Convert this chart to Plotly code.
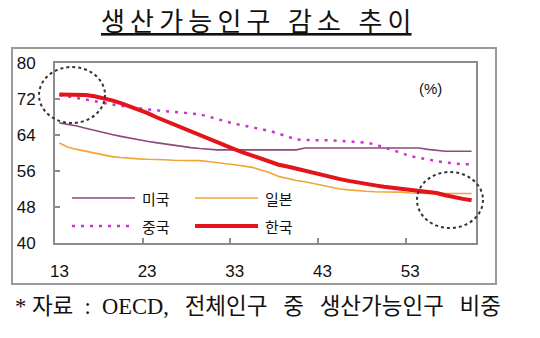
import plotly.graph_objects as go

years = list(range(13, 61))

korea = [73.0, 73.0, 73.0, 72.9, 72.6, 72.2, 71.7, 71.1, 70.4, 69.6,
         68.9, 68.0, 67.2, 66.3, 65.5, 64.6, 63.8, 63.0, 62.2, 61.5,
         60.8, 60.1, 59.4, 58.7, 58.0, 57.4, 57.0, 56.5, 56.1, 55.6,
         55.1, 54.7, 54.2, 53.8, 53.4, 53.1, 52.8, 52.5, 52.3, 52.1,
         51.9, 51.6, 51.4, 51.1, 50.6, 50.1, 49.8, 49.5]

china = [72.9, 72.6, 72.3, 71.9, 71.5, 71.1, 70.8, 70.5, 70.2, 69.9,
         69.7, 69.5, 69.3, 69.1, 69.0, 68.8, 68.6, 68.1, 67.5, 67.0,
         66.5, 66.1, 65.6, 65.3, 64.9, 64.3, 63.6, 63.0, 62.9, 62.9,
         62.8, 62.8, 62.7, 62.6, 62.5, 62.3, 61.9, 61.3, 60.7, 60.0,
         59.3, 58.9, 58.5, 58.2, 57.9, 57.7, 57.5, 57.5]

usa = [66.7, 66.4, 66.0, 65.5, 65.0, 64.5, 64.1, 63.7, 63.3, 62.9,
       62.6, 62.3, 62.0, 61.7, 61.4, 61.2, 61.0, 60.8, 60.7, 60.7,
       60.7, 60.7, 60.7, 60.7, 60.7, 60.7, 60.7, 60.7, 61.1, 61.1,
       61.1, 61.1, 61.1, 61.1, 61.1, 61.1, 61.1, 61.1, 61.1, 61.1,
       61.1, 61.1, 60.8, 60.6, 60.4, 60.4, 60.4, 60.4]

japan = [62.2, 61.3, 60.8, 60.4, 60.0, 59.6, 59.2, 59.0, 58.8, 58.7,
         58.6, 58.6, 58.5, 58.4, 58.4, 58.4, 58.3, 58.1, 57.8, 57.6,
         57.4, 57.1, 56.8, 56.2, 55.6, 54.8, 54.3, 53.9, 53.6, 53.2,
         52.8, 52.4, 52.0, 51.8, 51.6, 51.5, 51.4, 51.4, 51.3, 51.3,
         51.1, 51.0, 51.0, 51.0, 51.0, 51.0, 51.0, 51.0]

x_tick_vals = [13, 23, 33, 43, 53]
x_tick_text = ["13", "23", "33", "43", "53"]
y_tick_vals = [40, 48, 56, 64, 72, 80]

TS = "\u2009"   # thin space (letter spacing)
EN = "\u2002"   # en space (wide word gap)

def spaced(word):
    return TS.join(word)

title_text = "<u>" + ("   ".join(spaced(w) for w in ["생산가능인구", "감소", "추이"])) + "</u>"
footer_text = ("* 자료" + EN + ":" + EN + "OECD," + EN + TS + "전체인구" + EN + TS + "중"
               + EN + TS + "생산가능인구" + EN + TS + "비중")
unit_text = "(%)"

C_US = "#8E4A7A"
C_JP = "#F0A535"
C_CN = "#CC33CC"
C_KR = "#E3141A"

series = [
    ("미국", usa, C_US, 1.6, "solid"),
    ("일본", japan, C_JP, 1.6, "solid"),
    ("중국", china, C_CN, 2.5, "3px,6px"),
    ("한국", korea, C_KR, 4.0, "solid"),
]

fig = go.Figure()
for name, vals, col, w, dash in series:
    fig.add_trace(go.Scatter(x=years, y=vals, mode="lines", name=name,
                             line=dict(color=col, width=w, dash=dash),
                             showlegend=False))

# layout geometry (pixels)
W, H = 540, 338
L, R, T, B = 55, 476, 63, 243
pw, ph = R - L, B - T

def px(xp):
    return (xp - L) / pw

def py(yp):
    return (B - yp) / ph

shapes = []
annotations = []

# outer frame
shapes.append(dict(type="rect", xref="paper", yref="paper",
                   x0=px(12), x1=px(496), y0=py(284), y1=py(48),
                   line=dict(color="#9a9a9a", width=2), layer="below"))

# custom legend
legend_items = [
    ("미국", C_US, 1.6, "solid", 72, 135, 198),
    ("일본", C_JP, 1.6, "solid", 195, 258, 198),
    ("중국", C_CN, 2.5, "3px,6px", 72, 135, 226),
    ("한국", C_KR, 4.0, "solid", 195, 258, 226),
]
for name, col, w, dash, x0, x1, yy in legend_items:
    shapes.append(dict(type="line", xref="paper", yref="paper",
                       x0=px(x0), x1=px(x1), y0=py(yy), y1=py(yy),
                       line=dict(color=col, width=w, dash=dash)))
    annotations.append(dict(text=name, xref="paper", yref="paper",
                            x=px(x1 + 5), y=py(yy), xanchor="left", yanchor="middle",
                            showarrow=False,
                            font=dict(family="Noto Sans CJK KR", size=15, color="#111")))

# highlight circles
for cx, cy in [(72, 95), (450, 200)]:
    shapes.append(dict(type="circle", xref="paper", yref="paper",
                       x0=px(cx - 33), x1=px(cx + 33), y0=py(cy + 28), y1=py(cy - 28),
                       line=dict(color="#333333", width=2, dash="dot")))

annotations.append(dict(text=unit_text, xref="paper", yref="paper",
                        x=px(430), y=py(88), xanchor="center", yanchor="middle",
                        showarrow=False,
                        font=dict(family="Liberation Sans", size=15, color="#111")))
annotations.append(dict(text=title_text, xref="paper", yref="paper",
                        x=px(256), y=py(20), xanchor="center", yanchor="middle",
                        showarrow=False,
                        font=dict(family="Noto Sans CJK KR", size=26, color="#111")))
annotations.append(dict(text=footer_text, xref="paper", yref="paper",
                        x=px(13), y=py(306), xanchor="left", yanchor="middle",
                        showarrow=False,
                        font=dict(family="Liberation Serif, Noto Sans CJK KR", size=22.5, color="#111")))

fig.update_layout(
    width=W, height=H, autosize=False,
    margin=dict(l=L, r=W - R, t=T, b=H - B, pad=0),
    paper_bgcolor="white", plot_bgcolor="white",
    showlegend=False,
    shapes=shapes, annotations=annotations,
    xaxis=dict(range=[12.5, 60.5], tickvals=x_tick_vals, ticktext=x_tick_text,
               ticks="", showgrid=False, zeroline=False,
               showline=True, linecolor="#8c8c8c", linewidth=2, mirror=True,
               tickfont=dict(family="Liberation Sans", size=17, color="#111"),
               ticklabelstandoff=12,
               minor=dict(tickvals=[22.5, 32.5, 42.5, 52.5], ticks="inside",
                          ticklen=5, tickcolor="#8c8c8c", tickwidth=1.5)),
    yaxis=dict(range=[40, 80], tickvals=y_tick_vals, ticks="inside", ticklen=5,
               tickcolor="#8c8c8c", tickwidth=1.5,
               showgrid=False, zeroline=False,
               showline=True, linecolor="#8c8c8c", linewidth=2, mirror=True,
               tickfont=dict(family="Liberation Sans", size=17, color="#111"),
               ticklabelstandoff=14),
)

fig.write_html("out.html")
